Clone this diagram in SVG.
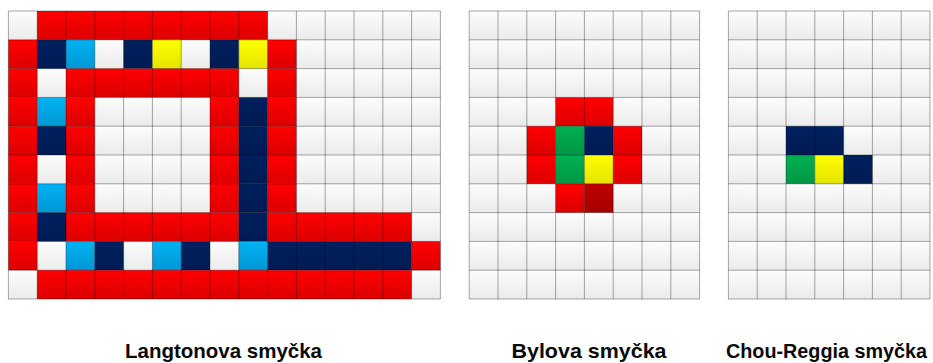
<svg xmlns="http://www.w3.org/2000/svg" width="933" height="363" viewBox="0 0 933 363">
<style>
.r{fill:url(#gr)}.n{fill:url(#gn)}.c{fill:url(#gc)}.y{fill:url(#gy)}.g{fill:url(#gg)}.d{fill:url(#gd)}
.bg{fill:url(#pw)}
.grid{fill:none;stroke:#000;stroke-opacity:0.34;stroke-width:1}
.lbl{font-family:"Liberation Sans",Arial,sans-serif;font-weight:bold;font-size:20.5px;fill:#0a0a0a;text-anchor:middle}
</style>
<defs>
<linearGradient id="gw" x1="0" y1="0" x2="0" y2="1"><stop offset="0" stop-color="#fcfcfc"/><stop offset="1" stop-color="#ebebeb"/></linearGradient>
<linearGradient id="gr" x1="0" y1="0" x2="0" y2="1"><stop offset="0" stop-color="#ff0000"/><stop offset="1" stop-color="#dc0000"/></linearGradient>
<linearGradient id="gn" x1="0" y1="0" x2="0" y2="1"><stop offset="0" stop-color="#00205e"/><stop offset="1" stop-color="#001b54"/></linearGradient>
<linearGradient id="gc" x1="0" y1="0" x2="0" y2="1"><stop offset="0" stop-color="#00b2f2"/><stop offset="1" stop-color="#0097d4"/></linearGradient>
<linearGradient id="gy" x1="0" y1="0" x2="0" y2="1"><stop offset="0" stop-color="#ffff00"/><stop offset="1" stop-color="#e4e400"/></linearGradient>
<linearGradient id="gg" x1="0" y1="0" x2="0" y2="1"><stop offset="0" stop-color="#00b050"/><stop offset="1" stop-color="#009746"/></linearGradient>
<linearGradient id="gd" x1="0" y1="0" x2="0" y2="1"><stop offset="0" stop-color="#c00000"/><stop offset="1" stop-color="#a50000"/></linearGradient>
<pattern id="pw" x="0" y="0" width="28.8" height="28.8" patternUnits="userSpaceOnUse"><rect width="28.8" height="28.8" fill="url(#gw)"/></pattern>
</defs>

<g id="langton" transform="translate(8.4,11)">
<rect class="bg" width="432" height="288"/>
<rect class="r" x="28.8" y="0" width="230.4" height="28.8"/>
<rect class="r" x="0" y="28.8" width="28.8" height="28.8"/>
<rect class="n" x="28.8" y="28.8" width="28.8" height="28.8"/>
<rect class="c" x="57.6" y="28.8" width="28.8" height="28.8"/>
<rect class="n" x="115.2" y="28.8" width="28.8" height="28.8"/>
<rect class="y" x="144" y="28.8" width="28.8" height="28.8"/>
<rect class="n" x="201.6" y="28.8" width="28.8" height="28.8"/>
<rect class="y" x="230.4" y="28.8" width="28.8" height="28.8"/>
<rect class="r" x="259.2" y="28.8" width="28.8" height="28.8"/>
<rect class="r" x="0" y="57.6" width="28.8" height="28.8"/>
<rect class="r" x="57.6" y="57.6" width="172.8" height="28.8"/>
<rect class="r" x="259.2" y="57.6" width="28.8" height="28.8"/>
<rect class="r" x="0" y="86.4" width="28.8" height="28.8"/>
<rect class="c" x="28.8" y="86.4" width="28.8" height="28.8"/>
<rect class="r" x="57.6" y="86.4" width="28.8" height="28.8"/>
<rect class="r" x="201.6" y="86.4" width="28.8" height="28.8"/>
<rect class="n" x="230.4" y="86.4" width="28.8" height="28.8"/>
<rect class="r" x="259.2" y="86.4" width="28.8" height="28.8"/>
<rect class="r" x="0" y="115.2" width="28.8" height="28.8"/>
<rect class="n" x="28.8" y="115.2" width="28.8" height="28.8"/>
<rect class="r" x="57.6" y="115.2" width="28.8" height="28.8"/>
<rect class="r" x="201.6" y="115.2" width="28.8" height="28.8"/>
<rect class="n" x="230.4" y="115.2" width="28.8" height="28.8"/>
<rect class="r" x="259.2" y="115.2" width="28.8" height="28.8"/>
<rect class="r" x="0" y="144" width="28.8" height="28.8"/>
<rect class="r" x="57.6" y="144" width="28.8" height="28.8"/>
<rect class="r" x="201.6" y="144" width="28.8" height="28.8"/>
<rect class="n" x="230.4" y="144" width="28.8" height="28.8"/>
<rect class="r" x="259.2" y="144" width="28.8" height="28.8"/>
<rect class="r" x="0" y="172.8" width="28.8" height="28.8"/>
<rect class="c" x="28.8" y="172.8" width="28.8" height="28.8"/>
<rect class="r" x="57.6" y="172.8" width="28.8" height="28.8"/>
<rect class="r" x="201.6" y="172.8" width="28.8" height="28.8"/>
<rect class="n" x="230.4" y="172.8" width="28.8" height="28.8"/>
<rect class="r" x="259.2" y="172.8" width="28.8" height="28.8"/>
<rect class="r" x="0" y="201.6" width="28.8" height="28.8"/>
<rect class="n" x="28.8" y="201.6" width="28.8" height="28.8"/>
<rect class="r" x="57.6" y="201.6" width="172.8" height="28.8"/>
<rect class="n" x="230.4" y="201.6" width="28.8" height="28.8"/>
<rect class="r" x="259.2" y="201.6" width="144" height="28.8"/>
<rect class="r" x="0" y="230.4" width="28.8" height="28.8"/>
<rect class="c" x="57.6" y="230.4" width="28.8" height="28.8"/>
<rect class="n" x="86.4" y="230.4" width="28.8" height="28.8"/>
<rect class="c" x="144" y="230.4" width="28.8" height="28.8"/>
<rect class="n" x="172.8" y="230.4" width="28.8" height="28.8"/>
<rect class="c" x="230.4" y="230.4" width="28.8" height="28.8"/>
<rect class="n" x="259.2" y="230.4" width="144" height="28.8"/>
<rect class="r" x="403.2" y="230.4" width="28.8" height="28.8"/>
<rect class="r" x="28.8" y="259.2" width="374.4" height="28.8"/>
<path class="grid" d="M0 0V288M28.8 0V288M57.6 0V288M86.4 0V288M115.2 0V288M144 0V288M172.8 0V288M201.6 0V288M230.4 0V288M259.2 0V288M288 0V288M316.8 0V288M345.6 0V288M374.4 0V288M403.2 0V288M432 0V288M0 0H432M0 28.8H432M0 57.6H432M0 86.4H432M0 115.2H432M0 144H432M0 172.8H432M0 201.6H432M0 230.4H432M0 259.2H432M0 288H432"/>
</g>

<g id="byl" transform="translate(469.2,11)">
<rect class="bg" width="230.4" height="288"/>
<rect class="r" x="86.4" y="86.4" width="57.6" height="28.8"/>
<rect class="r" x="57.6" y="115.2" width="28.8" height="28.8"/>
<rect class="g" x="86.4" y="115.2" width="28.8" height="28.8"/>
<rect class="n" x="115.2" y="115.2" width="28.8" height="28.8"/>
<rect class="r" x="144" y="115.2" width="28.8" height="28.8"/>
<rect class="r" x="57.6" y="144" width="28.8" height="28.8"/>
<rect class="g" x="86.4" y="144" width="28.8" height="28.8"/>
<rect class="y" x="115.2" y="144" width="28.8" height="28.8"/>
<rect class="r" x="144" y="144" width="28.8" height="28.8"/>
<rect class="r" x="86.4" y="172.8" width="28.8" height="28.8"/>
<rect class="d" x="115.2" y="172.8" width="28.8" height="28.8"/>
<path class="grid" d="M0 0V288M28.8 0V288M57.6 0V288M86.4 0V288M115.2 0V288M144 0V288M172.8 0V288M201.6 0V288M230.4 0V288M0 0H230.4M0 28.8H230.4M0 57.6H230.4M0 86.4H230.4M0 115.2H230.4M0 144H230.4M0 172.8H230.4M0 201.6H230.4M0 230.4H230.4M0 259.2H230.4M0 288H230.4"/>
</g>

<g id="chou-reggia" transform="translate(728.4,11)">
<rect class="bg" width="201.6" height="288"/>
<rect class="n" x="57.6" y="115.2" width="57.6" height="28.8"/>
<rect class="g" x="57.6" y="144" width="28.8" height="28.8"/>
<rect class="y" x="86.4" y="144" width="28.8" height="28.8"/>
<rect class="n" x="115.2" y="144" width="28.8" height="28.8"/>
<path class="grid" d="M0 0V288M28.8 0V288M57.6 0V288M86.4 0V288M115.2 0V288M144 0V288M172.8 0V288M201.6 0V288M0 0H201.6M0 28.8H201.6M0 57.6H201.6M0 86.4H201.6M0 115.2H201.6M0 144H201.6M0 172.8H201.6M0 201.6H201.6M0 230.4H201.6M0 259.2H201.6M0 288H201.6"/>
</g>

<g id="labels">
<text class="lbl" x="223.5" y="358" textLength="197" lengthAdjust="spacingAndGlyphs">Langtonova smyčka</text>
<text class="lbl" x="589" y="358" textLength="155" lengthAdjust="spacingAndGlyphs">Bylova smyčka</text>
<text class="lbl" x="726" y="358" style="text-anchor:start;font-size:20px" textLength="201" lengthAdjust="spacingAndGlyphs">Chou-Reggia smyčka</text>
</g>
</svg>
